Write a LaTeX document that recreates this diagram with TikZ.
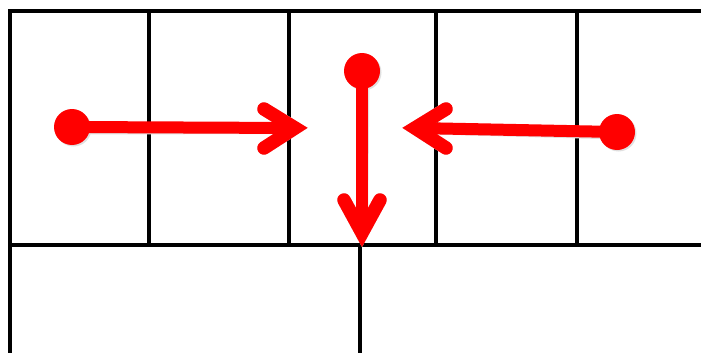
\documentclass[tikz,border=0pt]{standalone}
\begin{document}
\begin{tikzpicture}[x=1pt,y=-1pt,
  grid/.style={line width=3.5pt, black},
  shaft/.style={line width=12pt, red},
  head/.style={line width=13.5pt, red, line cap=round, line join=miter},
  dot/.style={circle, fill=red, minimum size=36pt, inner sep=0pt}]
\useasboundingbox (0,0) rectangle (701,353);
% grid
\draw[grid] (10,353) -- (10,11) -- (701,11);
\draw[grid] (10,245) -- (701,245);
\foreach \x in {149,289,436,577} \draw[grid] (\x,11) -- (\x,245);
\draw[grid] (360,245) -- (360,353);
% coordinates
\coordinate (v1) at (295,128);
\coordinate (a1) at (264,109);
\coordinate (b1) at (264,148);
\coordinate (v2) at (362,233);
\coordinate (a2) at (344,200);
\coordinate (b2) at (380,200);
\coordinate (v3) at (415,128);
\coordinate (a3) at (446,109);
\coordinate (b3) at (446,148);
% shadows
\begin{scope}[shift={(1.5,1.5)}]
\fill[black!12] (72,127) circle (18);
\fill[black!12] (362,71) circle (18);
\fill[black!12] (617,132) circle (18);
\draw[black!12, line width=12pt] (72,127) -- (v1);
\draw[black!12, line width=12pt] (362,71) -- (v2);
\draw[black!12, line width=12pt] (617,132) -- (v3);
\draw[black!12, line width=13.5pt, line cap=round] (a1) -- (v1) -- (b1);
\draw[black!12, line width=13.5pt, line cap=round] (a2) -- (v2) -- (b2);
\draw[black!12, line width=13.5pt, line cap=round] (a3) -- (v3) -- (b3);
\end{scope}
% arrows
\node[dot] (d1) at (72,127) {};
\node[dot] (d2) at (362,71) {};
\node[dot] (d3) at (617,132) {};
\draw[shaft] (d1.center) -- (v1);
\draw[shaft] (d2.center) -- (v2);
\draw[shaft] (d3.center) -- (v3);
\draw[head] (a1) -- (v1) -- (b1);
\draw[head] (a2) -- (v2) -- (b2);
\draw[head] (a3) -- (v3) -- (b3);
\end{tikzpicture}
\end{document}
